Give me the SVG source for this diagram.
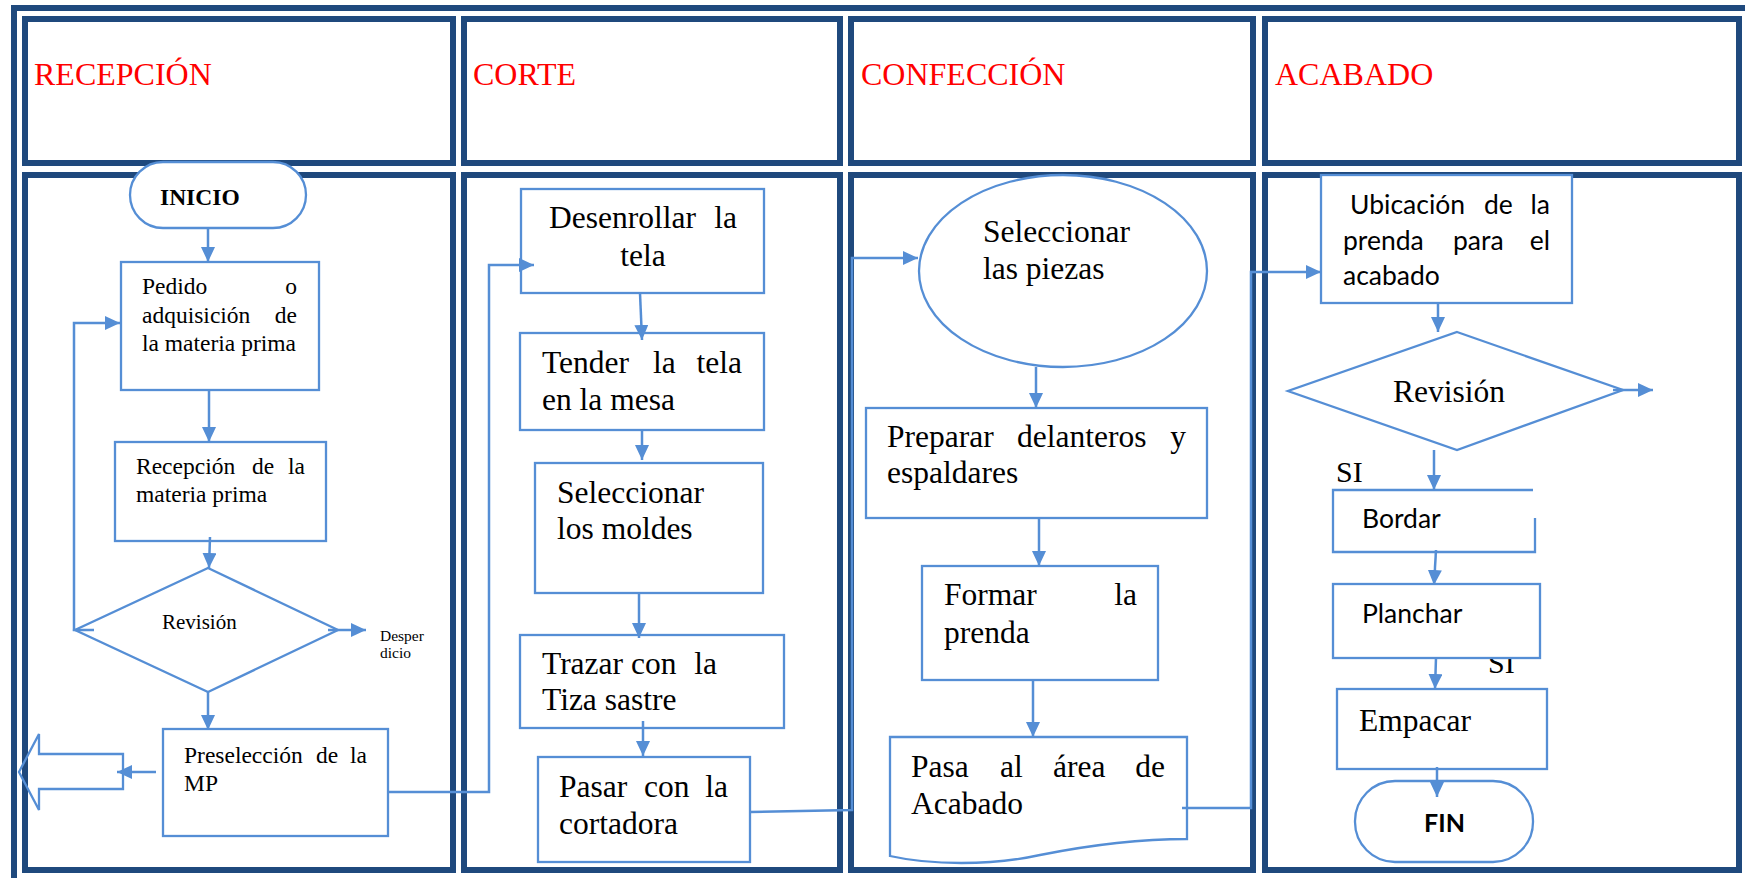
<svg xmlns="http://www.w3.org/2000/svg" width="1745" height="878" viewBox="0 0 1745 878">
<defs>
<style>
.frame{fill:none;stroke:#1F497D;stroke-width:6}
.cell{fill:none;stroke:#1F497D;stroke-width:6}
.node{fill:#fff;stroke:#558ED5;stroke-width:2.3}
.conn{fill:none;stroke:#558ED5;stroke-width:2.5}
.hdr{font-family:"Liberation Serif",serif;font-size:32px;fill:#FF0000}
.s23{font-family:"Liberation Serif",serif;font-size:23.5px;fill:#000}
.s21{font-family:"Liberation Serif",serif;font-size:21px;fill:#000}
.s15{font-family:"Liberation Serif",serif;font-size:15.5px;fill:#000}
.s31{font-family:"Liberation Serif",serif;font-size:31.5px;fill:#000}
.s30{font-family:"Liberation Serif",serif;font-size:30px;fill:#000}
.cal{font-family:Lato,"Liberation Sans",sans-serif;font-size:26.5px;fill:#000}
.bold{font-weight:bold}
</style>
<marker id="ah" viewBox="0 0 15 14" refX="15" refY="7" markerWidth="15" markerHeight="14" markerUnits="userSpaceOnUse" orient="auto">
<path d="M0,0 L15,7 L0,14 z" fill="#558ED5"/>
</marker>
</defs>
<rect width="1745" height="878" fill="#fff"/>

<g id="lanes">
<rect class="frame" x="14" y="8" width="1760" height="900"/>
<rect class="cell" x="25" y="19" width="428" height="144"/>
<rect class="cell" x="464" y="19" width="376" height="144"/>
<rect class="cell" x="851" y="19" width="402" height="144"/>
<rect class="cell" x="1265" y="19" width="474" height="144"/>
<rect class="cell" x="25" y="175" width="428" height="695"/>
<rect class="cell" x="464" y="175" width="376" height="695"/>
<rect class="cell" x="851" y="175" width="402" height="695"/>
<rect class="cell" x="1265" y="175" width="474" height="695"/>
<text class="hdr" x="34" y="85">RECEPCIÓN</text>
<text class="hdr" x="473" y="85">CORTE</text>
<text class="hdr" x="861" y="85">CONFECCIÓN</text>
<text class="hdr" x="1275" y="85">ACABADO</text>
</g>

<g id="inicio">
<rect class="node" x="130" y="162" width="176" height="66" rx="33"/>
<text class="s23 bold" x="160" y="205">INICIO</text>
</g>
<g id="pedido">
<rect class="node" x="121" y="262" width="198" height="128"/>
<text class="s23" x="142" y="294">Pedido</text><text class="s23" x="297" y="294" text-anchor="end">o</text>
<text class="s23" x="142" y="322.5">adquisición</text><text class="s23" x="297" y="322.5" text-anchor="end">de</text>
<text class="s23" x="142" y="350.5">la materia prima</text>
</g>
<g id="recepcion">
<rect class="node" x="115" y="442" width="211" height="99"/>
<text class="s23" x="136" y="474">Recepción</text><text class="s23" x="252" y="474">de</text><text class="s23" x="305" y="474" text-anchor="end">la</text>
<text class="s23" x="136" y="502">materia prima</text>
</g>
<g id="revision1">
<polygon class="node" points="208,568 338,630 208,692 75,630"/>
<text class="s21" x="162" y="629">Revisión</text>
</g>
<g id="desperdicio">
<text class="s15" x="380" y="641">Desper</text>
<text class="s15" x="380" y="658">dicio</text>
</g>
<g id="preseleccion">
<rect class="node" x="163" y="729" width="225" height="107"/>
<text class="s23" x="184" y="763">Preselección</text><text class="s23" x="316" y="763">de</text><text class="s23" x="367" y="763" text-anchor="end">la</text>
<text class="s23" x="184" y="791">MP</text>
</g>
<g id="salida">
<polygon points="19,772 39,734 39,754 123,754 123,789 39,789 39,810" fill="none" stroke="#558ED5" stroke-width="2.3"/>
</g>

<g id="desenrollar">
<rect class="node" x="521" y="189" width="243" height="104"/>
<text class="s31" x="549" y="228">Desenrollar</text><text class="s31" x="737" y="228" text-anchor="end">la</text>
<text class="s31" x="643" y="266" text-anchor="middle">tela</text>
</g>
<g id="tender">
<rect class="node" x="520" y="333" width="244" height="97"/>
<text class="s31" x="542" y="372.5">Tender</text><text class="s31" x="653" y="372.5">la</text><text class="s31" x="742" y="372.5" text-anchor="end">tela</text>
<text class="s31" x="542" y="410">en la mesa</text>
</g>
<g id="moldes">
<rect class="node" x="535" y="463" width="228" height="130"/>
<text class="s31" x="557" y="502.5">Seleccionar</text>
<text class="s31" x="557" y="539">los moldes</text>
</g>
<g id="trazar">
<rect class="node" x="520" y="635" width="264" height="93"/>
<text class="s31" x="542" y="674">Trazar con</text><text class="s31" x="717" y="674" text-anchor="end">la</text>
<text class="s31" x="542" y="710">Tiza sastre</text>
</g>
<g id="pasar">
<rect class="node" x="538" y="757" width="212" height="105"/>
<text class="s31" x="559" y="796.5">Pasar</text><text class="s31" x="644" y="796.5">con</text><text class="s31" x="728" y="796.5" text-anchor="end">la</text>
<text class="s31" x="559" y="834">cortadora</text>
</g>

<g id="piezas">
<ellipse class="node" cx="1063" cy="271" rx="144" ry="96"/>
<text class="s31" x="983" y="241.5">Seleccionar</text>
<text class="s31" x="983" y="279">las piezas</text>
</g>
<g id="preparar">
<rect class="node" x="866" y="408" width="341" height="110"/>
<text class="s31" x="887" y="446.5">Preparar</text><text class="s31" x="1017" y="446.5">delanteros</text><text class="s31" x="1186" y="446.5" text-anchor="end">y</text>
<text class="s31" x="887" y="483">espaldares</text>
</g>
<g id="formar">
<rect class="node" x="922" y="566" width="236" height="114"/>
<text class="s31" x="944" y="605">Formar</text><text class="s31" x="1137" y="605" text-anchor="end">la</text>
<text class="s31" x="944" y="643">prenda</text>
</g>
<g id="pasa">
<path class="node" d="M890,737 H1187 V839 C1140,839 1090,845 1040,855 C990,866 930,865 890,856 Z"/>
<text class="s31" x="911" y="776.5">Pasa</text><text class="s31" x="1000" y="776.5">al</text><text class="s31" x="1053" y="776.5">área</text><text class="s31" x="1165" y="776.5" text-anchor="end">de</text>
<text class="s31" x="911" y="814">Acabado</text>
</g>

<g id="ubicacion">
<rect class="node" x="1321" y="175" width="251" height="128"/>
<text class="cal" x="1350" y="214">Ubicación</text><text class="cal" x="1484" y="214">de</text><text class="cal" x="1550" y="214" text-anchor="end">la</text>
<text class="cal" x="1343" y="250">prenda</text><text class="cal" x="1453" y="250">para</text><text class="cal" x="1550" y="250" text-anchor="end">el</text>
<text class="cal" x="1343" y="285">acabado</text>
</g>
<g id="revision2">
<polygon class="node" points="1457,332 1623,390 1457,450 1288,391"/>
<text class="s31" x="1393" y="401.5">Revisión</text>
</g>
<g id="si1">
<text class="s30" x="1336" y="481.5">SI</text>
</g>
<g id="bordar">
<rect x="1333" y="490" width="202" height="62" fill="#fff"/>
<path d="M1535,518 V552 H1333 V490 H1533" fill="none" stroke="#558ED5" stroke-width="2.3"/>
<text class="cal" x="1362" y="528">Bordar</text>
</g>
<g id="si2">
<text class="s30" x="1488" y="672.5">SI</text>
</g>
<g id="planchar">
<rect class="node" x="1333" y="584" width="207" height="74"/>
<text class="cal" x="1362" y="623">Planchar</text>
</g>
<g id="empacar">
<rect class="node" x="1337" y="689" width="210" height="80"/>
<text class="s31" x="1359" y="730.5">Empacar</text>
</g>
<g id="fin">
<rect class="node" x="1355" y="781" width="178" height="81" rx="40"/>
<text class="cal bold" x="1444.5" y="831.5" text-anchor="middle" style="font-size:25px">FIN</text>
</g>

<g id="connectors">
<path class="conn" d="M208,228 V262" marker-end="url(#ah)"/>
<path class="conn" d="M209,390 V442" marker-end="url(#ah)"/>
<path class="conn" d="M210,537 L209,568" marker-end="url(#ah)"/>
<path class="conn" d="M208,692 V730" marker-end="url(#ah)"/>
<path class="conn" d="M328,630 H366" marker-end="url(#ah)"/>
<path class="conn" d="M94,630 H74 V323 H120" marker-end="url(#ah)"/>
<path class="conn" d="M156,772 H117" marker-end="url(#ah)"/>
<path class="conn" d="M388,792 H489 V265 H534" marker-end="url(#ah)"/>
<path class="conn" d="M640,293 L642,340" marker-end="url(#ah)"/>
<path class="conn" d="M642,430 V460" marker-end="url(#ah)"/>
<path class="conn" d="M639,593 V638" marker-end="url(#ah)"/>
<path class="conn" d="M643,721 V756" marker-end="url(#ah)"/>
<path class="conn" d="M750,812 L852,810 V258 H918" marker-end="url(#ah)"/>
<path class="conn" d="M1036,367 V408" marker-end="url(#ah)"/>
<path class="conn" d="M1039,518 V566" marker-end="url(#ah)"/>
<path class="conn" d="M1033,680 V737" marker-end="url(#ah)"/>
<path class="conn" d="M1182,808 H1251 V272 H1321" marker-end="url(#ah)"/>
<path class="conn" d="M1438,303 V332" marker-end="url(#ah)"/>
<path class="conn" d="M1613,390 H1653" marker-end="url(#ah)"/>
<path class="conn" d="M1434,450 V490" marker-end="url(#ah)"/>
<path class="conn" d="M1436,550 L1434,585" marker-end="url(#ah)"/>
<path class="conn" d="M1436,658 L1435,689" marker-end="url(#ah)"/>
<path class="conn" d="M1437,767 V797" marker-end="url(#ah)"/>
</g>
</svg>
